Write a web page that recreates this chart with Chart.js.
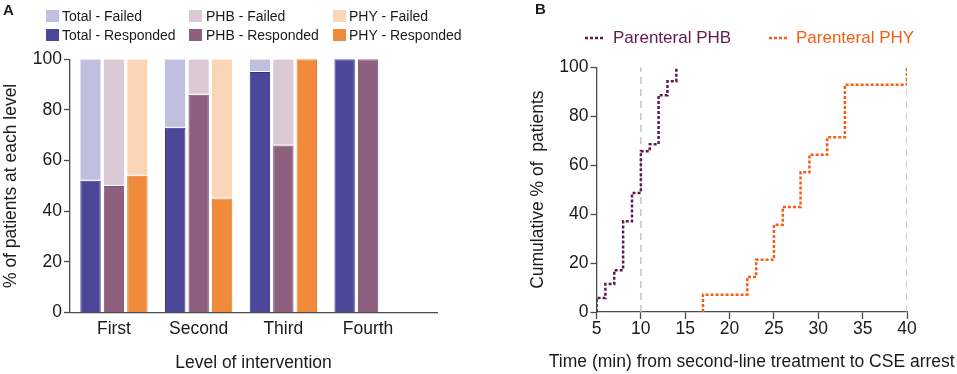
<!DOCTYPE html>
<html>
<head>
<meta charset="utf-8">
<script src="https://cdn.jsdelivr.net/npm/chart.js@4.4.1/dist/chart.umd.min.js"></script>
<style>
  body { margin: 0; width: 957px; height: 374px; background: #fff; overflow: hidden; position: relative;
         font-family: "Liberation Sans", Arial, sans-serif; color: #1a1a1a; }
  .panel { position: absolute; top: 0; }
  .plabel { position: absolute; font-weight: bold; font-size: 15px; line-height: 15px; }
  .lg { position: absolute; font-size: 14px; line-height: 14px; white-space: nowrap; }
  .box { position: absolute; width: 13px; height: 12px; }
  .lgB { position: absolute; font-size: 17px; line-height: 17px; white-space: nowrap; }
</style>
</head>
<body>
<div class="panel" style="left:0;width:480px;height:374px;">
  <canvas id="chartA" width="480" height="374"></canvas>
</div>
<div class="panel" style="left:480px;width:477px;height:374px;">
  <canvas id="chartB" width="477" height="374"></canvas>
</div>

<div class="plabel" style="left:3px;top:2px;">A</div>
<div class="plabel" style="left:535px;top:1px;">B</div>

<!-- legend A -->
<div class="box" style="left:46px;top:10px;background:#c0bfdf;"></div>
<div class="lg" style="left:62px;top:9px;">Total - Failed</div>
<div class="box" style="left:189px;top:10px;background:#dbc9d6;"></div>
<div class="lg" style="left:206px;top:9px;">PHB - Failed</div>
<div class="box" style="left:333px;top:10px;background:#fbd5b8;"></div>
<div class="lg" style="left:349px;top:9px;">PHY - Failed</div>
<div class="box" style="left:46px;top:29px;background:#4b4899;"></div>
<div class="lg" style="left:62px;top:28px;">Total - Responded</div>
<div class="box" style="left:189px;top:29px;background:#8f5f80;"></div>
<div class="lg" style="left:206px;top:28px;">PHB - Responded</div>
<div class="box" style="left:333px;top:29px;background:#f08a3b;"></div>
<div class="lg" style="left:349px;top:28px;">PHY - Responded</div>

<!-- legend B -->
<svg style="position:absolute;left:585px;top:36px;" width="18" height="4"><line x1="0" y1="2" x2="18" y2="2" stroke="#5e1a4e" stroke-width="2.5" stroke-dasharray="3 2"/></svg>
<div class="lgB" style="left:613px;top:29px;color:#5e1a4e;">Parenteral PHB</div>
<svg style="position:absolute;left:769px;top:36px;" width="18" height="4"><line x1="0" y1="2" x2="18" y2="2" stroke="#f45d12" stroke-width="2.5" stroke-dasharray="3 2"/></svg>
<div class="lgB" style="left:796px;top:29px;color:#f45d12;">Parenteral PHY</div>

<script>
// ---- panel A data (% of patients at each level)
const levels = ['First', 'Second', 'Third', 'Fourth'];
const totalResponded = [52, 73, 95, 100];
const totalFailed = [48, 27, 5, 0];
const phbResponded = [50, 86, 66, 100];
const phbFailed = [50, 14, 34, 0];
const phyResponded = [54, 45, 100, null];
const phyFailed = [46, 55, 0, null];
const pctTicks = [0, 20, 40, 60, 80, 100];

// ---- panel B data (cumulative % of patients vs time in min)
const phbTimes = [5, 5, 6, 7, 8, 9, 10, 11, 12, 13, 14];
const phbCum = [0, 5.7, 11.4, 17.1, 37.1, 48.6, 65.7, 68.6, 88.6, 94.3, 100];
const phyTimes = [17, 17, 22, 23, 25, 26, 28, 29, 31, 33, 40];
const phyCum = [0, 7.1, 14.3, 21.4, 35.7, 42.9, 57.1, 64.3, 71.4, 92.9, 100];
const refTimes = [10, 40];
const timeTicks = [5, 10, 15, 20, 25, 30, 35, 40];

Chart.defaults.font.family = '"Liberation Sans", Arial, sans-serif';
Chart.defaults.color = '#1a1a1a';

const axisColor = '#4a4a4a';
const bigFont = { size: 17.5 };

function toPoints(xs, ys) {
    return ys.map(function(v, i) { return { x: xs[i], y: v }; });
}
let levelPos = levels.map(function(l, i) { return i + 1; });

function barSet(label, values, stack, bg, border, failed) {
    return {
        label: label,
        data: toPoints(levelPos, values),
        stack: stack,
        backgroundColor: bg,
        borderColor: border,
        borderWidth: failed ? { bottom: 1 } : 1,
        borderSkipped: failed ? false : 'start',
        categoryPercentage: 0.83,
        barPercentage: 0.87
    };
}

new Chart(document.getElementById('chartA'), {
    type: 'bar',
    data: {
        datasets: [
            barSet('Total - Responded', totalResponded, 'total', '#4b4899', '#333089', false),
            barSet('Total - Failed', totalFailed, 'total', '#c0bfdf', '#ffffff', true),
            barSet('PHB - Responded', phbResponded, 'phb', '#8f5f80', '#7c4b6e', false),
            barSet('PHB - Failed', phbFailed, 'phb', '#dbc9d6', '#ffffff', true),
            barSet('PHY - Responded', phyResponded, 'phy', '#f08a3b', '#e6782a', false),
            barSet('PHY - Failed', phyFailed, 'phy', '#fbd5b8', '#ffffff', true)
        ]
    },
    options: {
        responsive: false,
        animation: false,
        devicePixelRatio: 1,
        layout: { padding: { left: 0, right: 43, top: 59.3, bottom: 0 } },
        plugins: { legend: { display: false }, tooltip: { enabled: false } },
        scales: {
            x: {
                type: 'linear',
                offset: false,
                min: 0.481,
                max: 4.814,
                afterBuildTicks: function(scale) {
                    scale.ticks = levelPos.map(function(v) { return { value: v }; });
                },
                afterFit: function(scale) { scale.height = 61.5; },
                grid: { display: false, drawTicks: false, offset: false },
                border: { color: axisColor, width: 1.3 },
                ticks: {
                    font: bigFont, padding: 6, maxRotation: 0, autoSkip: false,
                    callback: function(v) { return levels[v - 1]; }
                },
                title: { display: true, text: 'Level of intervention', font: bigFont, padding: { top: 0, bottom: 0 } }
            },
            y: {
                stacked: true,
                min: 0,
                max: 100,
                afterBuildTicks: function(scale) {
                    scale.ticks = pctTicks.map(function(v) { return { value: v }; });
                },
                afterFit: function(scale) { scale.width = 70; },
                grid: { drawOnChartArea: false, tickLength: 6, tickColor: axisColor, tickWidth: 1.3 },
                border: { color: axisColor, width: 1.3 },
                ticks: { font: bigFont, padding: 2 },
                title: { display: true, text: '% of patients at each level', font: bigFont, padding: { top: 1, bottom: 0 } }
            }
        }
    }
});

let lineSets = [
    {
        label: 'Parenteral PHB',
        data: toPoints(phbTimes, phbCum),
        stepped: true,
        borderColor: '#5e1a4e',
        borderDash: [3, 2],
        borderWidth: 2.5,
        pointRadius: 0,
        fill: false
    },
    {
        label: 'Parenteral PHY',
        data: toPoints(phyTimes, phyCum),
        stepped: true,
        borderColor: '#f45d12',
        borderDash: [3, 2],
        borderWidth: 2.5,
        pointRadius: 0,
        fill: false
    }
];
// grey dashed reference lines
refTimes.forEach(function(t) {
    lineSets.push({
        label: 'ref ' + t,
        data: [{ x: t, y: 0 }, { x: t, y: 100 }],
        borderColor: '#c4c4c4',
        borderDash: [7, 5],
        borderWidth: 1.5,
        pointRadius: 0,
        fill: false
    });
});

// x title of panel B is wider than the axis, so draw it without maxWidth squeeze
const wideXTitle = {
    id: 'wideXTitle',
    afterDraw: function(chart, args, opts) {
        let ctx = chart.ctx;
        let area = chart.chartArea;
        ctx.save();
        ctx.font = '17.5px "Liberation Sans", Arial, sans-serif';
        ctx.fillStyle = '#1a1a1a';
        ctx.textAlign = 'center';
        ctx.textBaseline = 'middle';
        ctx.fillText(opts.text, (area.left + area.right) / 2, opts.y);
        ctx.restore();
    }
};

new Chart(document.getElementById('chartB'), {
    type: 'line',
    data: { datasets: lineSets },
    plugins: [wideXTitle],
    options: {
        responsive: false,
        animation: false,
        devicePixelRatio: 1,
        layout: { padding: { left: 47, right: 50, top: 67.3, bottom: 0 } },
        plugins: {
            legend: { display: false },
            tooltip: { enabled: false },
            wideXTitle: { text: 'Time (min) from second-line treatment to CSE arrest', y: 362 }
        },
        scales: {
            x: {
                type: 'linear',
                min: 5,
                max: 40,
                afterBuildTicks: function(scale) {
                    scale.ticks = timeTicks.map(function(v) { return { value: v }; });
                },
                afterFit: function(scale) { scale.height = 62; },
                grid: { drawOnChartArea: false, tickLength: 7, tickColor: axisColor, tickWidth: 1.3 },
                border: { color: axisColor, width: 1.3 },
                ticks: { font: bigFont, padding: 0, maxRotation: 0, autoSkip: false }
            },
            y: {
                min: 0,
                max: 100,
                afterBuildTicks: function(scale) {
                    scale.ticks = pctTicks.map(function(v) { return { value: v }; });
                },
                afterFit: function(scale) { scale.width = 69.5; },
                grid: { drawOnChartArea: false, tickLength: 6, tickColor: axisColor, tickWidth: 1.3 },
                border: { color: axisColor, width: 1.3 },
                ticks: { font: bigFont, padding: 2 },
                title: { display: true, text: 'Cumulative % of  patients', font: bigFont, padding: { top: 0.5, bottom: 0 } }
            }
        }
    }
});
</script>
</body>
</html>
